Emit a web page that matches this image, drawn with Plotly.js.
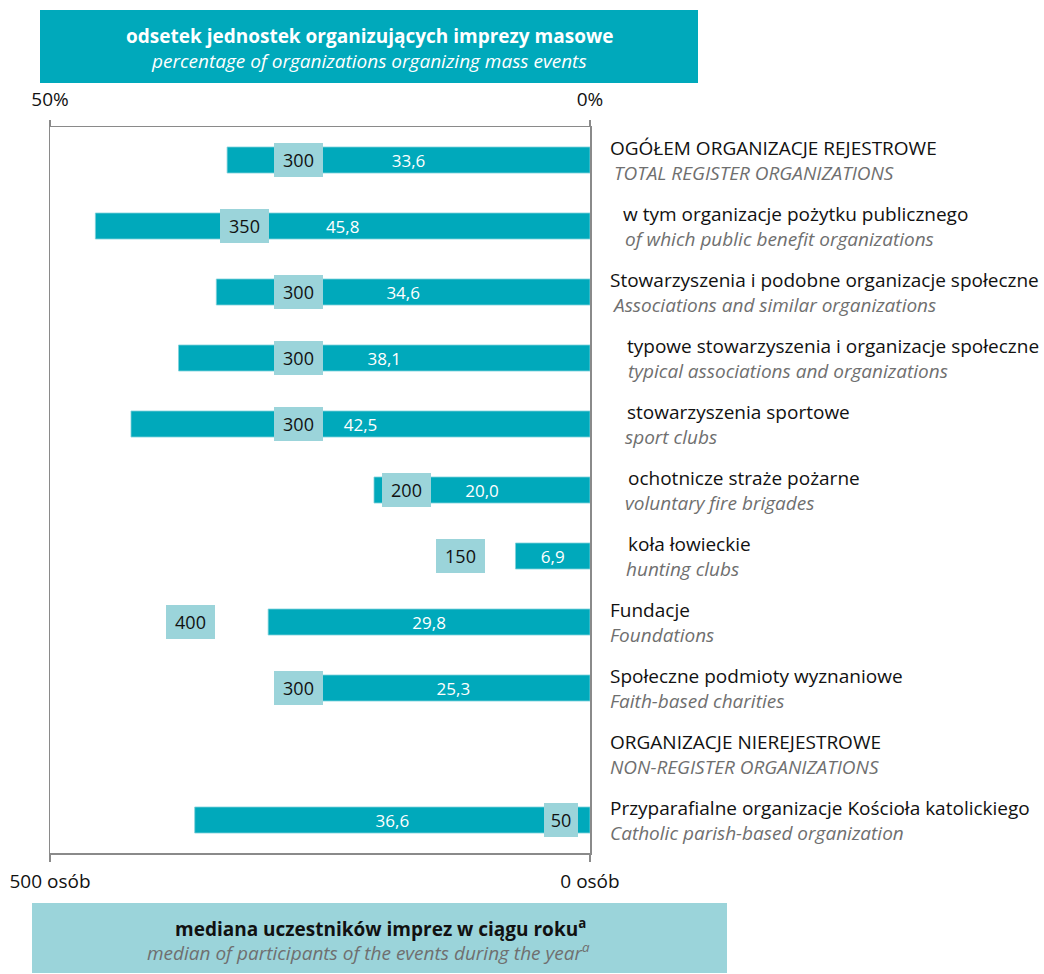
<!DOCTYPE html>
<html><head><meta charset="utf-8">
<script src="https://cdn.plot.ly/plotly-3.0.1.min.js"></script>
<style>body{margin:0;background:#fff}</style></head>
<body><div id="chart" style="width:1044px;height:974px"></div>
<script>
const categoriesPl = [
  'OGÓŁEM ORGANIZACJE REJESTROWE',
  'w tym organizacje pożytku publicznego',
  'Stowarzyszenia i podobne organizacje społeczne',
  'typowe stowarzyszenia i organizacje społeczne',
  'stowarzyszenia sportowe',
  'ochotnicze straże pożarne',
  'koła łowieckie',
  'Fundacje',
  'Społeczne podmioty wyznaniowe',
  'ORGANIZACJE NIEREJESTROWE',
  'Przyparafialne organizacje Kościoła katolickiego'
];
const categoriesEn = [
  'TOTAL REGISTER ORGANIZATIONS',
  'of which public benefit organizations',
  'Associations and similar organizations',
  'typical associations and organizations',
  'sport clubs',
  'voluntary fire brigades',
  'hunting clubs',
  'Foundations',
  'Faith-based charities',
  'NON-REGISTER ORGANIZATIONS',
  'Catholic parish-based organization'
];
const percentValues = [33.6, 45.8, 34.6, 38.1, 42.5, 20.0, 6.9, 29.8, 25.3, null, 36.6];
const percentLabels = ['33,6', '45,8', '34,6', '38,1', '42,5', '20,0', '6,9', '29,8', '25,3', null, '36,6'];
const medianValues = [300, 350, 300, 300, 300, 200, 150, 400, 300, null, 50];
const percentTicks = [50, 0];
const percentTickLabels = ['50%', '0%'];
const medianTicks = [500, 0];
const medianTickLabels = ['500 osób', '0 osób'];

// label indentation (pixels) — layout only
const plLeft = [610, 623, 610, 627, 627, 628, 628, 610, 610, 610, 610];
const enLeft = [614, 625, 612, 628, 625, 625, 626, 610, 610, 610, 610];

const FONT = 'Open Sans, sans-serif';
const TEAL = '#00a9bb';
const LIGHT = '#9bd4da';
const GRAY = '#8a8a8a';
const L = 50, R = 590, T = 127, B = 853;
const px2x = p => (p - L) / (R - L);
const py2y = p => (B - p) / (B - T);

const idx = categoriesPl.map((_, i) => i);

const traces = [
  {
    type: 'bar', orientation: 'h',
    x: percentValues, y: idx, xaxis: 'x', yaxis: 'y',
    width: 0.394,
    marker: {color: TEAL, line: {color: '#7fd0da', width: 0.8}},
    text: percentLabels, textposition: 'inside', insidetextanchor: 'middle',
    textfont: {family: FONT, size: 17, color: '#ffffff'},
    constraintext: 'none',
    hoverinfo: 'skip', showlegend: false, cliponaxis: false
  },
  {
    type: 'scatter', mode: 'markers',
    x: medianValues, y: idx, xaxis: 'x2', yaxis: 'y',
    marker: {opacity: 0, size: 1},
    hoverinfo: 'skip', showlegend: false
  }
];

const annotations = [];
medianValues.forEach((v, i) => {
  if (v === null) return;
  const s = String(v);
  annotations.push({
    xref: 'x2', yref: 'y', x: v, y: i, xanchor: 'left', yanchor: 'middle', xshift: 8,
    text: s, showarrow: false, bgcolor: LIGHT,
    width: s.length === 3 ? 49 : 34, height: 34, borderpad: 0, borderwidth: 0,
    font: {family: FONT, size: 18, color: '#111'}
  });
});
categoriesPl.forEach((c, i) => {
  annotations.push({
    xref: 'paper', yref: 'y', x: px2x(plLeft[i] - 2), y: i, xanchor: 'left', yanchor: 'middle', yshift: 12,
    text: c, showarrow: false, font: {family: FONT, size: 19, color: '#111'}
  });
  annotations.push({
    xref: 'paper', yref: 'y', x: px2x(enLeft[i] - 2), y: i, xanchor: 'left', yanchor: 'middle', yshift: -13,
    text: '<i>' + categoriesEn[i] + '</i>', showarrow: false, font: {family: FONT, size: 19, color: '#6f6f6f'}
  });
});
annotations.push(
  {xref: 'paper', yref: 'paper', x: px2x(369), y: py2y(36), xanchor: 'center', yanchor: 'middle',
   text: '<b>odsetek jednostek organizujących imprezy masowe</b>', showarrow: false,
   font: {family: FONT, size: 19, color: '#ffffff'}},
  {xref: 'paper', yref: 'paper', x: px2x(369), y: py2y(61), xanchor: 'center', yanchor: 'middle',
   text: '<i>percentage of organizations organizing mass events</i>', showarrow: false,
   font: {family: FONT, size: 19, color: '#ffffff'}},
  {xref: 'paper', yref: 'paper', x: px2x(380), y: py2y(928), xanchor: 'center', yanchor: 'middle',
   text: '<b>mediana uczestników imprez w ciągu roku<sup>a</sup></b>', showarrow: false,
   font: {family: FONT, size: 19, color: '#111'}},
  {xref: 'paper', yref: 'paper', x: px2x(368), y: py2y(952), xanchor: 'center', yanchor: 'middle',
   text: '<i>median of participants of the events during the year<sup>a</sup></i>', showarrow: false,
   font: {family: FONT, size: 19, color: '#6f6f6f'}}
);

const shapes = [
  {type: 'rect', xref: 'paper', yref: 'paper', layer: 'below',
   x0: px2x(40), x1: px2x(698), y0: py2y(83), y1: py2y(10), fillcolor: TEAL, line: {width: 0}},
  {type: 'rect', xref: 'paper', yref: 'paper', layer: 'below',
   x0: px2x(32), x1: px2x(727), y0: py2y(973), y1: py2y(903), fillcolor: LIGHT, line: {width: 0}}
];

const layout = {
  width: 1044, height: 974,
  margin: {l: L, r: 1044 - R, t: T, b: 974 - B, pad: 0},
  paper_bgcolor: '#fff', plot_bgcolor: '#fff',
  font: {family: FONT, size: 16, color: '#111'},
  showlegend: false,
  xaxis: {
    side: 'top', range: [50, 0], tickvals: percentTicks, ticktext: percentTickLabels,
    ticks: 'outside', ticklen: 6, tickcolor: GRAY, tickwidth: 1.5,
    showline: true, linecolor: GRAY, linewidth: 1.5,
    showgrid: false, zeroline: false, fixedrange: true,
    ticklabelstandoff: 6,
    tickfont: {family: FONT, size: 19, color: '#111'}
  },
  xaxis2: {
    overlaying: 'x', side: 'bottom', anchor: 'y', range: [500, 0],
    tickvals: medianTicks, ticktext: medianTickLabels,
    ticks: 'outside', ticklen: 7, tickcolor: GRAY, tickwidth: 1.5,
    showline: true, linecolor: GRAY, linewidth: 1.5,
    showgrid: false, zeroline: false, fixedrange: true,
    ticklabelstandoff: 4,
    tickfont: {family: FONT, size: 19, color: '#111'}
  },
  yaxis: {
    range: [10.5, -0.5], showticklabels: false, ticks: '',
    showline: true, mirror: true, linecolor: GRAY, linewidth: 1.5,
    showgrid: false, zeroline: false, fixedrange: true
  },
  annotations: annotations,
  shapes: shapes
};

Plotly.newPlot('chart', traces, layout, {displayModeBar: false, staticPlot: true});
</script></body></html>
